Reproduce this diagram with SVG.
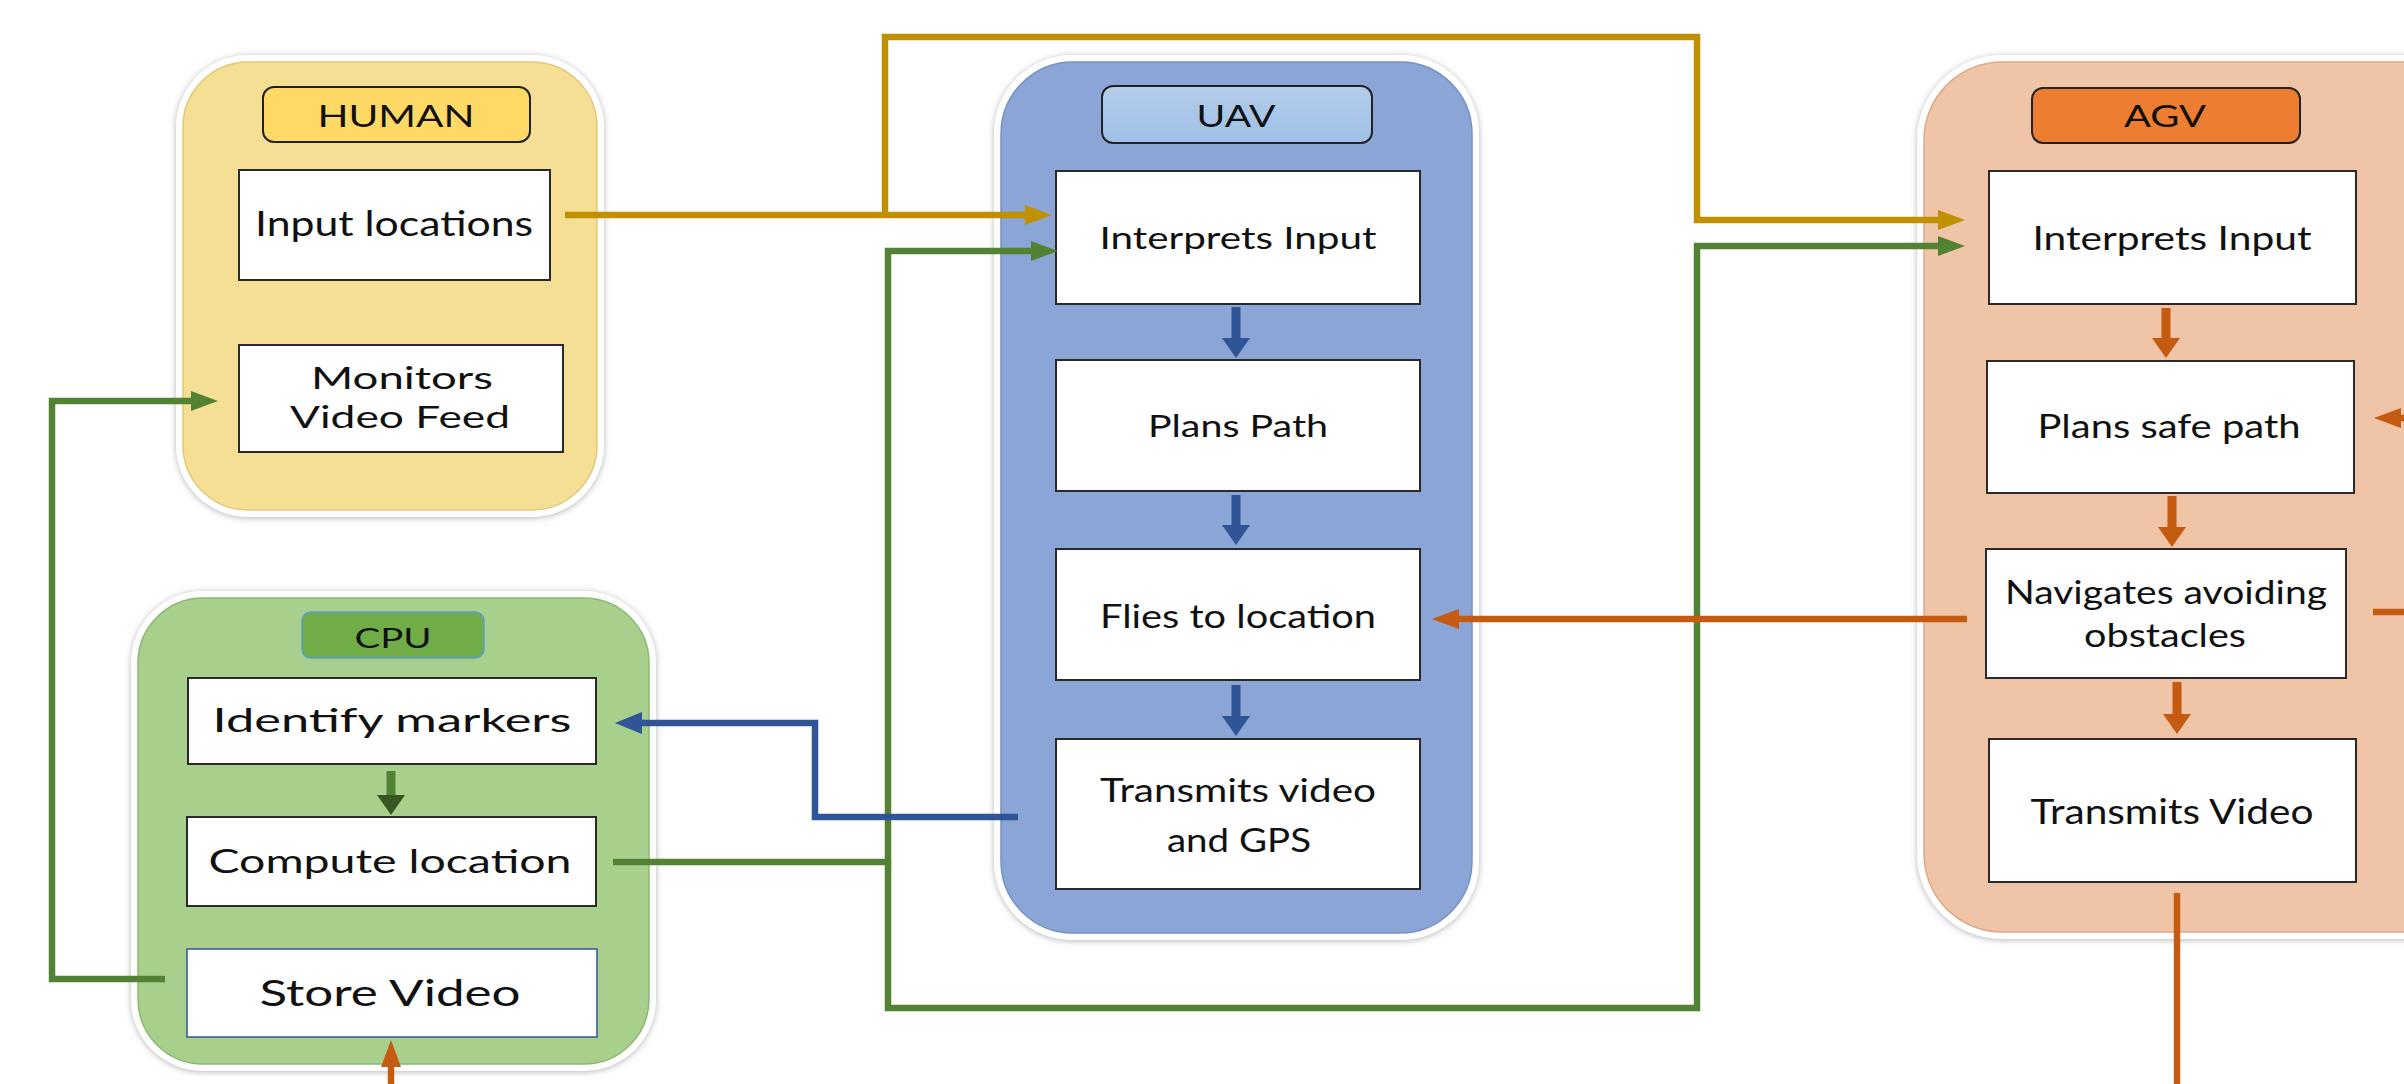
<svg xmlns="http://www.w3.org/2000/svg" width="2404" height="1084" viewBox="0 0 2404 1084">
<defs>
<style>
.halo{fill:#ffffff;filter:url(#sh)}
.box{fill:#ffffff;stroke:#2a2a2a;stroke-width:2}
.t{font-family:Lato,"Open Sans","Liberation Sans",sans-serif;fill:#111111;text-anchor:middle}
.title{stroke:#222222;stroke-width:2}
.con{fill:none;stroke-width:6.5;stroke-linejoin:miter}
.int{fill:none;stroke-width:9}
.gold{stroke:#BF9000}.green{stroke:#548235}.blue{stroke:#2F5597}.orange{stroke:#C55A11}
</style>
<filter id="sh" x="-10%" y="-10%" width="120%" height="120%">
<feDropShadow dx="0" dy="1" stdDeviation="3" flood-color="#777777" flood-opacity="0.55"/>
</filter>
<linearGradient id="uavT" x1="0" y1="0" x2="0" y2="1"><stop offset="0" stop-color="#B4CCEA"/><stop offset="1" stop-color="#9DC0E6"/></linearGradient>
<marker id="mGold" viewBox="0 0 27 20" refX="1" refY="10" markerWidth="27" markerHeight="20" orient="auto" markerUnits="userSpaceOnUse"><path d="M0,0 L27,10 L0,20z" fill="#BF9000"/></marker>
<marker id="mGreen" viewBox="0 0 27 20" refX="1" refY="10" markerWidth="27" markerHeight="20" orient="auto" markerUnits="userSpaceOnUse"><path d="M0,0 L27,10 L0,20z" fill="#548235"/></marker>
<marker id="mBlue" viewBox="0 0 27 22" refX="1" refY="11" markerWidth="27" markerHeight="22" orient="auto" markerUnits="userSpaceOnUse"><path d="M0,0 L27,11 L0,22z" fill="#2F5597"/></marker>
<marker id="mOrange" viewBox="0 0 27 20" refX="1" refY="10" markerWidth="27" markerHeight="20" orient="auto" markerUnits="userSpaceOnUse"><path d="M0,0 L27,10 L0,20z" fill="#C55A11"/></marker>
<marker id="iBlue" viewBox="0 0 20 28" refX="1" refY="14" markerWidth="20" markerHeight="28" orient="auto" markerUnits="userSpaceOnUse"><path d="M0,0 L20,14 L0,28z" fill="#2F5597"/></marker>
<marker id="iGreen" viewBox="0 0 20 28" refX="1" refY="14" markerWidth="20" markerHeight="28" orient="auto" markerUnits="userSpaceOnUse"><path d="M0,0 L20,14 L0,28z" fill="#385723"/></marker>
<marker id="iOrange" viewBox="0 0 20 28" refX="1" refY="14" markerWidth="20" markerHeight="28" orient="auto" markerUnits="userSpaceOnUse"><path d="M0,0 L20,14 L0,28z" fill="#C55A11"/></marker>
</defs>
<rect width="2404" height="1084" fill="#ffffff"/>

<g id="human">
<rect class="halo" x="176" y="55" width="428" height="462" rx="72"/>
<rect x="183" y="62" width="414" height="448" rx="65" fill="#F5DF95" stroke="#E3C877" stroke-width="1.5"/>
<rect class="title" x="263" y="87" width="267" height="55" rx="11" fill="#FFD966"/>
<text class="t" x="396" y="127" font-size="31" textLength="157" lengthAdjust="spacingAndGlyphs">HUMAN</text>
<g id="human-input"><rect class="box" x="239" y="170" width="311" height="110"/>
<text class="t" x="394" y="236" font-size="35" textLength="278" lengthAdjust="spacingAndGlyphs">Input locations</text></g>
<g id="human-monitor"><rect class="box" x="239" y="345" width="324" height="107"/>
<text class="t" x="402" y="389" font-size="30" textLength="182" lengthAdjust="spacingAndGlyphs">Monitors</text>
<text class="t" x="400" y="428" font-size="31" textLength="220" lengthAdjust="spacingAndGlyphs">Video Feed</text></g>
</g>

<g id="cpu">
<rect class="halo" x="131" y="591" width="525" height="480" rx="72"/>
<rect x="138" y="598" width="511" height="466" rx="65" fill="#A9CF8C" stroke="#8DB872" stroke-width="1.5"/>
<rect x="302" y="612" width="182" height="46" rx="9" fill="#70AD47" stroke="#5B9BD5" stroke-width="1.5"/>
<text class="t" x="393" y="648" font-size="27" textLength="77" lengthAdjust="spacingAndGlyphs">CPU</text>
<g id="cpu-identify"><rect class="box" x="188" y="678" width="408" height="86"/>
<text class="t" x="392" y="732" font-size="32" textLength="359" lengthAdjust="spacingAndGlyphs">Identify markers</text></g>
<g id="cpu-compute"><rect class="box" x="187" y="817" width="409" height="89"/>
<text class="t" x="390" y="873" font-size="33" textLength="363" lengthAdjust="spacingAndGlyphs">Compute location</text></g>
<g id="cpu-store"><rect x="187" y="949" width="410" height="88" fill="#ffffff" stroke="#2F5597" stroke-width="1.5"/>
<text class="t" x="390" y="1006" font-size="36" textLength="261" lengthAdjust="spacingAndGlyphs">Store Video</text></g>
</g>

<g id="uav">
<rect class="halo" x="994" y="55" width="485" height="885" rx="78"/>
<rect x="1001" y="62" width="471" height="871" rx="72" fill="#8AA5D6" stroke="#7590C4" stroke-width="1.5"/>
<rect class="title" x="1102" y="86" width="270" height="57" rx="11" fill="url(#uavT)"/>
<text class="t" x="1236" y="127" font-size="30" textLength="79" lengthAdjust="spacingAndGlyphs">UAV</text>
<g id="uav-interprets"><rect class="box" x="1056" y="171" width="364" height="133"/>
<text class="t" x="1238" y="249" font-size="31" textLength="277" lengthAdjust="spacingAndGlyphs">Interprets Input</text></g>
<g id="uav-plans"><rect class="box" x="1056" y="360" width="364" height="131"/>
<text class="t" x="1238" y="437" font-size="30" textLength="180" lengthAdjust="spacingAndGlyphs">Plans Path</text></g>
<g id="uav-flies"><rect class="box" x="1056" y="549" width="364" height="131"/>
<text class="t" x="1238" y="628" font-size="33" textLength="276" lengthAdjust="spacingAndGlyphs">Flies to location</text></g>
<g id="uav-transmits"><rect class="box" x="1056" y="739" width="364" height="150"/>
<text class="t" x="1238" y="802" font-size="32" textLength="276" lengthAdjust="spacingAndGlyphs">Transmits video</text>
<text class="t" x="1239" y="852" font-size="32" textLength="144" lengthAdjust="spacingAndGlyphs">and GPS</text></g>
</g>

<g id="agv">
<rect class="halo" x="1917" y="55" width="580" height="884" rx="85"/>
<rect x="1924" y="62" width="566" height="870" rx="78" fill="#F0C4A6" stroke="#DDAA88" stroke-width="1.5"/>
<rect class="title" x="2032" y="88" width="268" height="55" rx="11" fill="#ED7D31"/>
<text class="t" x="2165" y="127" font-size="31" textLength="82" lengthAdjust="spacingAndGlyphs">AGV</text>
<g id="agv-interprets"><rect class="box" x="1989" y="171" width="367" height="133"/>
<text class="t" x="2172" y="250" font-size="32" textLength="279" lengthAdjust="spacingAndGlyphs">Interprets Input</text></g>
<g id="agv-plans"><rect class="box" x="1987" y="361" width="367" height="132"/>
<text class="t" x="2169" y="438" font-size="32" textLength="263" lengthAdjust="spacingAndGlyphs">Plans safe path</text></g>
<g id="agv-navigates"><rect class="box" x="1986" y="549" width="360" height="129"/>
<text class="t" x="2166" y="604" font-size="32" textLength="322" lengthAdjust="spacingAndGlyphs">Navigates avoiding</text>
<text class="t" x="2165" y="647" font-size="32" textLength="162" lengthAdjust="spacingAndGlyphs">obstacles</text></g>
<g id="agv-transmits"><rect class="box" x="1989" y="739" width="367" height="143"/>
<text class="t" x="2172" y="824" font-size="34" textLength="283" lengthAdjust="spacingAndGlyphs">Transmits Video</text></g>
</g>

<g id="connectors">
<path class="con gold" d="M565,215 H1026" marker-end="url(#mGold)"/>
<path class="con gold" d="M885,215 V37 H1697 V220 H1939" marker-end="url(#mGold)"/>
<path class="con green" d="M613,862 H888 V251 H1032" marker-end="url(#mGreen)"/>
<path class="con green" d="M888,862 V1008 H1697 V246 H1939" marker-end="url(#mGreen)"/>
<path class="con green" d="M165,979 H52 V401 H192" marker-end="url(#mGreen)"/>
<path class="con blue" d="M1018,817 H815 V723 H641" marker-end="url(#mBlue)"/>
<path class="con orange" d="M1967,619 H1458" marker-end="url(#mOrange)"/>
<path class="con orange" d="M2177,893 V1084"/>
<path class="con orange" d="M391,1084 V1066" marker-end="url(#mOrange)"/>
<path class="con orange" d="M2404,418 H2400" marker-end="url(#mOrange)"/>
<path class="con orange" d="M2373,612 H2404"/>
<path class="int blue" d="M1236,307 V339" marker-end="url(#iBlue)"/>
<path class="int blue" d="M1236,495 V526" marker-end="url(#iBlue)"/>
<path class="int blue" d="M1236,685 V717" marker-end="url(#iBlue)"/>
<path class="int green" d="M391,771 V796" stroke="#385723" marker-end="url(#iGreen)"/>
<path class="int orange" d="M2166,308 V339" marker-end="url(#iOrange)"/>
<path class="int orange" d="M2172,496 V528" marker-end="url(#iOrange)"/>
<path class="int orange" d="M2177,682 V715" marker-end="url(#iOrange)"/>
</g>
</svg>
